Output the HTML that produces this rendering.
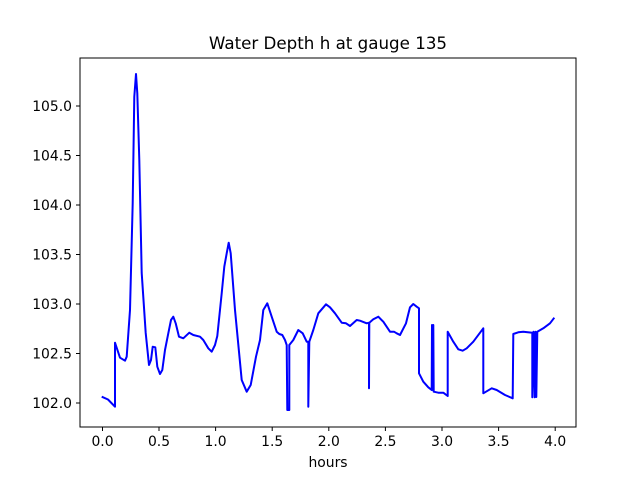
<!DOCTYPE html>
<html><head><style>body{margin:0;background:#fff}svg{display:block}</style></head><body>
<svg width="640" height="480" viewBox="0 0 640 480" xmlns="http://www.w3.org/2000/svg" font-family="DejaVu Sans, Liberation Sans, sans-serif">
<rect width="640" height="480" fill="#fff"/>
<text x="328" y="49" font-size="16.7" text-anchor="middle">Water Depth h at gauge 135</text>
<polyline fill="none" stroke="#0000ff" stroke-width="2" stroke-linejoin="round" points="
101.7,396.7 108,399.5 115,406.7 115,342.7 120,357.7 125,360.7 126.7,356.7 130,310 132.7,203 134.3,96.7 136,74 137.3,93.3 139.3,160 141.7,273 145.7,333 149,365 151,360 152.7,346.7 155.3,347.3 157.3,366.7 160,374 162.3,370 165,350 168.3,333.3 171,320 173.3,316.7 175.7,323.3 179,336.7 183.3,338.3 189.3,332.7 193.3,335 200,336.7 203.3,340 208.3,348.3 211.7,351.7 215,345 217.3,336 221.7,293.3 224.3,266.7 226.7,253.3 228.7,242.7 230.7,253.3 235,310 241.7,380 246.7,391.7 250.7,385 256,356.7 260,340 263.3,310 267.3,303.3 271.7,316.7 276.7,331.7 279.3,334 282.3,335 285,340 286.7,345 287.3,410 289.3,410 289.3,345 293.3,340 298.3,330 302.7,333.3 306.7,341.7 308.3,341.7 308.3,406.7 309.3,341.7 313.3,330 318.3,313.3 326,304.3 330,307.3 335,313.3 341.7,322.7 346,323.3 350,326 356.7,320 360,320.7 366.7,323.3 369,322.7 369,388.3 369.3,322.7 373.3,319.3 378.3,316.7 383.3,321.7 390,331.7 394,331.7 396.7,333.3 400,335 406,323.3 410,307.3 413.3,304 416.7,306.7 419,308.3 419,373.3 423.3,381.7 428.3,387.3 431.7,390 432,325 432.7,390 433.3,325 433.7,391.7 438.3,392.7 443.3,392.7 447.7,396 447.7,331.7 453.3,341.7 458.3,349.3 462.7,350.7 466.7,348.3 473.3,341.7 483.3,328.3 483.3,393.3 491.7,388.3 496.7,390 505,395 512.7,398.3 513.3,334 518.3,332.3 523.3,331.7 532.3,332.7 532.3,397.3 533.5,331.7 534.7,397.3 535.5,331.7 536.3,397 537.3,331.7 543.3,328.3 550,323.3 554.3,317.7"/>
<rect x="80" y="58" width="496" height="369" fill="none" stroke="#000" stroke-width="1"/>
<g stroke="#000" stroke-width="1">
<line x1="102.5" y1="427" x2="102.5" y2="431"/><line x1="159" y1="427" x2="159" y2="431"/><line x1="215.6" y1="427" x2="215.6" y2="431"/><line x1="272.2" y1="427" x2="272.2" y2="431"/><line x1="328.8" y1="427" x2="328.8" y2="431"/><line x1="385.4" y1="427" x2="385.4" y2="431"/><line x1="442" y1="427" x2="442" y2="431"/><line x1="498.6" y1="427" x2="498.6" y2="431"/><line x1="555.2" y1="427" x2="555.2" y2="431"/>
<line x1="76" y1="403" x2="80" y2="403"/><line x1="76" y1="353.5" x2="80" y2="353.5"/><line x1="76" y1="304" x2="80" y2="304"/><line x1="76" y1="254.5" x2="80" y2="254.5"/><line x1="76" y1="205" x2="80" y2="205"/><line x1="76" y1="155.5" x2="80" y2="155.5"/><line x1="76" y1="106" x2="80" y2="106"/>
</g>
<g font-size="13.9" text-anchor="middle">
<text x="102.5" y="446">0.0</text><text x="159" y="446">0.5</text><text x="215.6" y="446">1.0</text><text x="272.2" y="446">1.5</text><text x="328.8" y="446">2.0</text><text x="385.4" y="446">2.5</text><text x="442" y="446">3.0</text><text x="498.6" y="446">3.5</text><text x="555.2" y="446">4.0</text>
<text x="328" y="467">hours</text>
</g>
<g font-size="13.9" text-anchor="end">
<text x="72" y="408">102.0</text><text x="72" y="358.5">102.5</text><text x="72" y="309">103.0</text><text x="72" y="259.5">103.5</text><text x="72" y="210">104.0</text><text x="72" y="160.5">104.5</text><text x="72" y="111">105.0</text>
</g>
</svg>
</body></html>
